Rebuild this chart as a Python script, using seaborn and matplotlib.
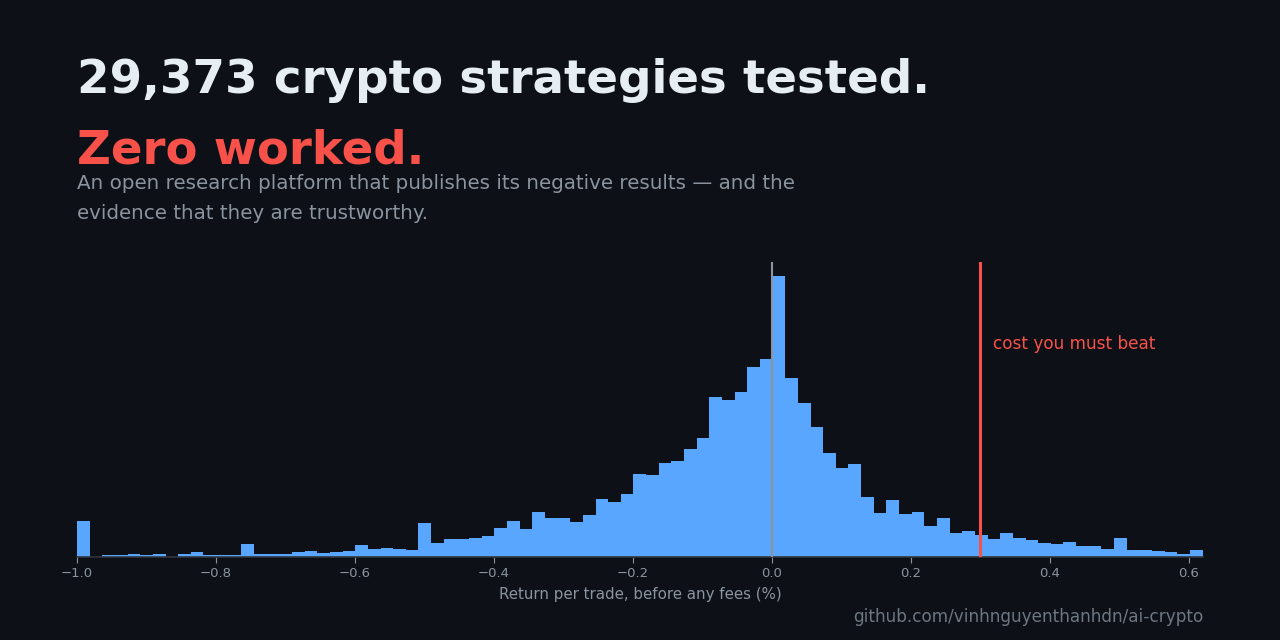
import numpy as np
import pandas as pd
import seaborn as sns
import matplotlib
matplotlib.use("Agg")
import matplotlib.pyplot as plt
import matplotlib.transforms as mtransforms

# ---- data ----
bin_lo, bin_hi, n_bins = -1.0, 0.62, 89
counts = [277, 0, 15, 15, 23, 15, 23, 0, 23, 38, 15, 15, 15, 100, 23, 23, 23, 38, 46, 31, 38,
          46, 92, 62, 69, 62, 54, 262, 108, 139, 139, 146, 162, 223, 277,
          216, 347, 300, 300, 270, 323, 447, 424, 485, 639, 631, 724, 739, 832, 916,
          1232, 1209, 1271, 1463, 1525, 2164, 1378, 1186, 1001, 801, 685, 716, 462,
          339, 439, 331, 347, 239, 300, 185, 200, 169, 139, 185, 146, 131, 108, 100,
          116, 85, 85, 62, 146, 54, 54, 46, 38, 23, 54]
x_ticks = [-1.0, -0.8, -0.6, -0.4, -0.2, 0.0, 0.2, 0.4, 0.6]
cost_line = 0.30

title_1 = "29,373 crypto strategies tested."
title_2 = "Zero worked."
subtitle_1 = "An open research platform that publishes its negative results \u2014 and the"
subtitle_2 = "evidence that they are trustworthy."
x_label = "Return per trade, before any fees (%)"
cost_label = "cost you must beat"
footer = "github.com/vinhnguyenthanhdn/ai-crypto"

# ---- styling ----
BG = "#0d1117"
BLUE = "#58a6ff"
RED = "#f85149"
WHITE = "#e6edf3"
GRAY = "#8b949e"
DIM = "#6e7681"
SPINE = "#30363d"

sns.set_theme(style="dark")
plt.rcParams["font.family"] = ["DejaVu Sans"]

bw = (bin_hi - bin_lo) / n_bins
centers = [bin_lo + bw * (i + 0.5) for i in range(n_bins)]
df = pd.DataFrame({"ret": centers, "n": counts})

fig = plt.figure(figsize=(12.8, 6.4), dpi=100, facecolor=BG)
ax = fig.add_axes([77 / 1280, 1 - 557 / 640, (1203 - 77) / 1280, (557 - 262) / 640])
ax.set_facecolor(BG)

sns.histplot(data=df, x="ret", weights="n", binwidth=bw, binrange=(bin_lo, bin_hi),
             ax=ax, color=BLUE, alpha=1.0, edgecolor="none", linewidth=0)

ax.set_xlim(-1.0, 0.6206)
ax.set_ylim(0, max(counts) * 1.05)
ax.axvline(0.0, color=GRAY, lw=1.5, zorder=3)
ax.axvline(cost_line, color=RED, lw=2.2, zorder=4)
trans = mtransforms.blended_transform_factory(ax.transData, ax.transAxes)
ax.text(cost_line + 0.0185, 0.722, cost_label, transform=trans, color=RED,
        fontsize=12.2, va="center", ha="left")

ax.set_yticks([])
ax.set_ylabel("")
ax.set_xticks(x_ticks)
ax.set_xticklabels([f"{t:.1f}".replace("-", "\u2212") for t in x_ticks])
ax.tick_params(axis="x", colors=GRAY, labelsize=9.5, length=4, width=0.8,
               bottom=True, pad=3)
ax.set_xlabel(x_label, color=GRAY, fontsize=10.8, labelpad=5)
ax.grid(False)
for s in ["top", "right", "left"]:
    ax.spines[s].set_visible(False)
ax.spines["bottom"].set_visible(True)
ax.spines["bottom"].set_color(SPINE)
ax.spines["bottom"].set_linewidth(1.2)

x0 = 77 / 1280
fig.text(x0, 1 - 93 / 640, title_1, color=WHITE, fontsize=33.7, fontweight="bold",
         va="baseline", ha="left")
fig.text(x0, 1 - 163 / 640, title_2, color=RED, fontsize=33.6, fontweight="bold",
         va="baseline", ha="left")
fig.text(x0, 1 - 189 / 640, subtitle_1, color=GRAY, fontsize=14.3,
         va="baseline", ha="left")
fig.text(x0, 1 - 219 / 640, subtitle_2, color=GRAY, fontsize=14.3,
         va="baseline", ha="left")
fig.text(1203 / 1280, 1 - 622 / 640, footer, color=DIM, fontsize=12.2,
         va="baseline", ha="right")

fig.savefig("out.png", dpi=100, facecolor=BG)
